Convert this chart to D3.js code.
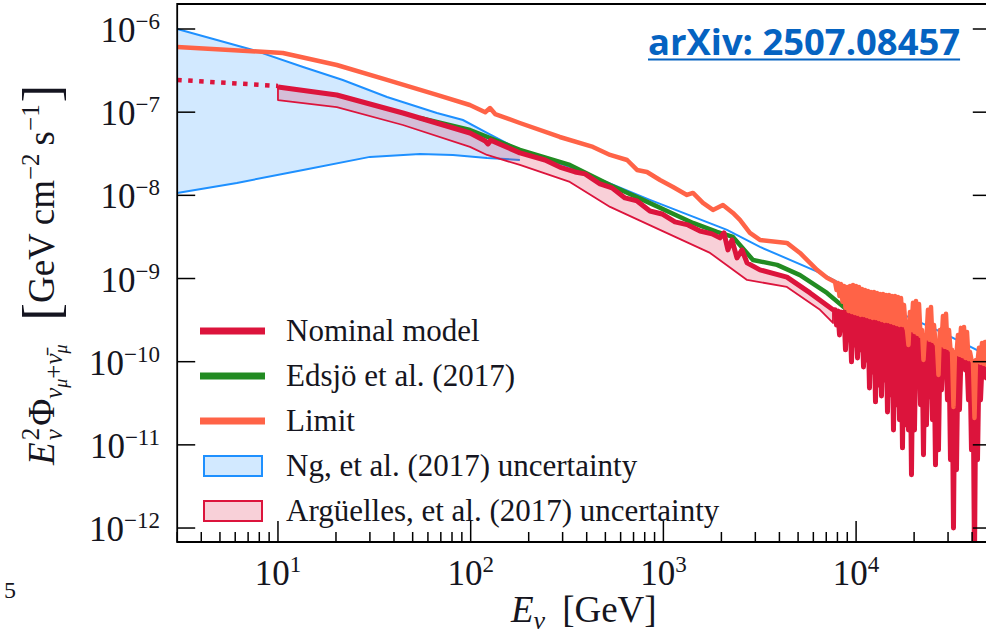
<!DOCTYPE html>
<html><head><meta charset="utf-8">
<script src="https://cdn.jsdelivr.net/npm/d3@7"></script>
<style>body{margin:0;background:#fff;overflow:hidden}</style>
</head><body>
<svg id="c" width="986" height="634"></svg>
<script>
// ---------------- DATA ----------------
const xTickValues = [10, 100, 1000, 10000];
const xTickExponents = ["1", "2", "3", "4"];
const yTickValues = [1e-12, 1e-11, 1e-10, 1e-9, 1e-8, 1e-7, 1e-6];
const yTickExponents = ["\u221212", "\u221211", "\u221210", "\u22129", "\u22128", "\u22127", "\u22126"];

const legendLabels = ["Nominal model", "Edsj\u00f6 et al. (2017)", "Limit",
  "Ng, et al. (2017) uncertainty", "Arg\u00fcelles, et al. (2017) uncertainty"];

// [E (GeV), E^2 Phi (GeV cm^-2 s^-1)]
const ngUpper = [[3,1e-6],[7.42,5.6e-7],[13.5,3.49e-7],[21.7,2.44e-7],[36.8,1.52e-7],[66.8,9.77e-8],
  [91.2,8.05e-8],[121.6,5.62e-8],[180,3.52e-8],[327,2.19e-8],[851,8.81e-9],[2138,3.84e-9],[3169,2.40e-9],
  [6500,1.17e-9],[8551,8.38e-10],[15520,4.20e-10],[28250,2.22e-10],[50000,1.14e-10]];
const ngLower = [[3,1.07e-8],[6.12,1.41e-8],[13.5,2.02e-8],[30,2.9e-8],[54.6,3.15e-8],[80.9,3.06e-8],
  [121.6,2.82e-8],[180,2.66e-8]];

const limitSmooth = [[3,6.08e-7],[10.6,5.15e-7],[20.2,3.69e-7],[36.8,2.44e-7],[66.8,1.61e-7],[99,1.22e-7],
  [119,1.0e-7],[126,1.12e-7],[134,9.5e-8],[180,7.41e-8],[290,5.03e-8],[431,3.82e-8],[529,3.06e-8],
  [648,2.66e-8],[730,2.02e-8],[822,1.91e-8],[960,1.53e-8],[1122,1.26e-8],[1325,1.01e-8],[1424,1.07e-8],
  [1604,8.11e-9],[1808,6.68e-9],[2037,7.67e-9],[2296,6.14e-9],[2495,5.06e-9],[2811,3.53e-9],[3169,2.91e-9],
  [4375,2.68e-9],[5115,2.03e-9],[6266,1.27e-9],[7061,1.02e-9]];

const edsjo = [[54.6,8.51e-8],[99.2,6.11e-8],[180,3.52e-8],[327,2.32e-8],[529,1.33e-8],[783,8.81e-9],
  [1424,4.66e-9],[1897,3.63e-9],[2296,3.16e-9],[2917,1.67e-9],[3890,1.46e-9],[5115,1.10e-9],[7061,6.71e-10],
  [8974,4.20e-10],[11800,3.01e-10],[16895,2.10e-10],[24190,1.47e-10],[31830,1.05e-10],[42400,8.41e-11],
  [50000,7.53e-11]];

const nominalLowE = [[3,2.44e-7],[10,2.07e-7]];
const nominalSmooth = [[10,2.01e-7],[20.2,1.61e-7],[44.5,9.77e-8],[99.2,5.62e-8],[119,4.5e-8],[123,4.15e-8],
  [127,4.6e-8],[180,3.24e-8],[243,2.66e-8],[290,2.19e-8],[348,1.91e-8],[392,1.81e-8],[469,1.37e-8],
  [541,1.23e-8],[632,9.31e-9],[730,8.57e-9],[851,6.49e-9],[984,5.97e-9],[1148,4.79e-9],[1342,4.41e-9],
  [1549,3.73e-9],[1788,3.44e-9],[1966,3.08e-9],[2063,3.53e-9],[2163,2.21e-9],[2269,2.91e-9],[2409,1.77e-9],
  [2558,2.21e-9],[2717,1.54e-9],[3169,1.27e-9],[4375,1.04e-9],[5770,6.71e-10],[7586,4.20e-10]];
const arguellesLower = [[10,1.40e-7],[20.2,1.15e-7],[44.5,7.01e-8],[99.2,3.82e-8],[121.6,3.06e-8],
  [180,2.32e-8],[327,1.45e-8],[529,7.26e-9],[960,3.84e-9],[1746,2.03e-9],[2717,9.62e-10],[4375,7.93e-10],
  [6500,4.20e-10],[7586,2.92e-10]];

// oscillating high-energy part, read peak/dip by peak/dip
const oscE = [7772,7912,8055,8201,8349,8500,8654,8810,8970,9132,9297,9465,9636,9811,9988,10169,10352,10539,
  10730,10924,11121,11322,11527,11735,11947,12164,12383,12607,12835,13067,13303,13544,13789,14038,14292,
  14550,14813,15081,15353,15631,15913,16201,16494,16792,17096,17405,17719,18040,18366,18698,19036,19380,
  19731,20088,20451,20821,21197,21581,21971,22368,22773,23185,23604,24031,24465,24908,25358,25817,26284,
  26759,27243,27736,28237,28748,29268,29797,30336,30884,31443,32011,32590,33180,33780,34391,35013,35646,
  36290,36947,37615,38295,38987,39692,40410,41141,41885,42658,43429,44214,45014,45828,46657,47500,48359,
  49234,50125];
const oscNominal = [4.20e-10,2.77e-10,4.08e-10,2.10e-10,3.97e-10,2.41e-10,3.97e-10,1.39e-10,3.86e-10,1.83e-10,
  3.76e-10,9.95e-11,3.65e-10,1.59e-10,3.65e-10,1.11e-10,3.55e-10,1.39e-10,3.45e-10,8.66e-11,3.45e-10,1.05e-10,
  3.36e-10,4.84e-11,3.27e-10,7.53e-11,3.18e-10,3.29e-11,3.18e-10,5.26e-11,3.09e-10,3.88e-11,3.01e-10,6.04e-11,
  2.92e-10,2.49e-11,2.92e-10,3.99e-11,2.84e-10,1.51e-11,2.77e-10,3.03e-11,2.69e-10,2.00e-11,2.62e-10,9.2e-12,
  2.62e-10,1.74e-11,2.55e-10,1.51e-11,2.34e-10,4.36e-12,2.22e-10,1.51e-11,2.10e-10,5.26e-11,1.99e-10,3.03e-11,
  1.93e-10,7.59e-12,1.88e-10,1.74e-11,1.78e-10,3.78e-11,1.73e-10,2.00e-11,1.68e-10,5.75e-12,1.59e-10,8.71e-12,
  1.55e-10,4.58e-11,1.51e-10,8.66e-11,1.43e-10,3.47e-11,1.39e-10,6.61e-12,1.31e-10,1.0e-12,1.24e-10,5.01e-12,
  1.17e-10,2.64e-11,1.14e-10,9.16e-11,1.11e-10,7.96e-11,1.05e-10,3.47e-11,1.02e-10,8.71e-12,9.95e-11,4.15e-13,
  9.68e-11,6.61e-12,9.42e-11,3.47e-11,9.16e-11,6.56e-11,8.91e-11,6.38e-11,8.66e-11,5.26e-11,8.41e-11];
const oscLimit = [9.10e-10,7.30e-10,8.85e-10,6.18e-10,8.61e-10,5.24e-10,8.15e-10,4.44e-10,7.93e-10,4.08e-10,
  8.15e-10,3.97e-10,8.38e-10,3.86e-10,8.15e-10,3.76e-10,7.93e-10,3.65e-10,7.50e-10,3.65e-10,7.30e-10,3.55e-10,
  7.10e-10,3.45e-10,6.90e-10,3.36e-10,6.90e-10,3.36e-10,6.71e-10,3.27e-10,6.53e-10,3.18e-10,6.53e-10,3.09e-10,
  6.35e-10,3.09e-10,6.35e-10,3.01e-10,6.18e-10,2.92e-10,6.18e-10,2.84e-10,6.01e-10,2.77e-10,5.85e-10,2.77e-10,
  4.82e-10,2.69e-10,2.41e-10,1.59e-10,3.97e-10,2.41e-10,5.10e-10,2.28e-10,5.38e-10,2.16e-10,4.95e-10,2.04e-10,
  2.41e-10,1.05e-10,2.10e-10,1.93e-10,4.20e-10,1.83e-10,4.56e-10,1.78e-10,2.77e-10,1.68e-10,1.59e-10,6.93e-11,
  2.41e-10,1.59e-10,3.55e-10,1.51e-10,3.76e-10,1.47e-10,2.41e-10,1.39e-10,1.39e-10,2.86e-11,1.31e-10,1.24e-10,
  2.10e-10,1.21e-10,2.55e-10,1.17e-10,2.62e-10,1.11e-10,2.28e-10,1.08e-10,1.31e-10,1.05e-10,9.95e-11,2.11e-11,
  1.05e-10,9.95e-11,1.47e-10,9.68e-11,1.68e-10,9.42e-11,1.73e-10,9.16e-11,1.59e-10,8.91e-11,1.39e-10];

const nominal = nominalSmooth.concat(oscE.map((e,i) => [e, oscNominal[i]]));
const limit = limitSmooth.concat(oscE.map((e,i) => [e, oscLimit[i]]));

// ---------------- LAYOUT ----------------
const X0 = 177.2, X1 = 990.8, Y0 = 542, Y1 = 4;
const SERIF = "Liberation Serif, Times New Roman, serif";
const C = {red:"#DC143C", green:"#228B22", orange:"#FF6347", blue:"#1E90FF",
  blueFill:"rgba(30,144,255,0.2)", redFill:"rgba(220,20,60,0.2)", ink:"#151520"};

const svg = d3.select("#c");
const x = d3.scaleLog().domain([3, 5e4]).range([X0, X1]);
const y = d3.scaleLog().domain([Math.pow(10,-12.168), Math.pow(10,-5.6994)]).range([Y0, Y1]);

svg.append("defs").append("clipPath").attr("id","clip")
  .append("rect").attr("x",X0).attr("y",Y1).attr("width",X1-X0).attr("height",Y0-Y1);
const plot = svg.append("g").attr("clip-path","url(#clip)");
const line = d3.line().x(d => x(d[0])).y(d => y(d[1]));

// Ng band
const ngPoly = ngUpper.filter(d => d[0] <= 180).concat(ngLower.slice().reverse());
plot.append("path").attr("d", line(ngPoly) + "Z").attr("fill", C.blueFill).attr("stroke","none");
plot.append("path").attr("d", line(ngLower)).attr("fill","none").attr("stroke",C.blue).attr("stroke-width",2);
plot.append("path").attr("d", line(ngUpper)).attr("fill","none").attr("stroke",C.blue).attr("stroke-width",2);

// Edsjo
plot.append("path").attr("d", line(edsjo)).attr("fill","none").attr("stroke",C.green)
  .attr("stroke-width",4.5).attr("stroke-linejoin","round");
// Arguelles band
const argPoly = nominalSmooth.concat(arguellesLower.slice().reverse());
plot.append("path").attr("d", line(argPoly) + "Z").attr("fill", C.redFill)
  .attr("stroke", C.red).attr("stroke-width",1.8).attr("stroke-linejoin","round");
// Nominal
plot.append("path").attr("d", line(nominalLowE)).attr("fill","none").attr("stroke",C.red)
  .attr("stroke-width",4.5).attr("stroke-dasharray","4.5,6.5");
plot.append("path").attr("d", line(nominal)).attr("fill","none").attr("stroke",C.red)
  .attr("stroke-width",5).attr("stroke-linejoin","round");
// Limit
plot.append("path").attr("d", line(limit)).attr("fill","none").attr("stroke",C.orange)
  .attr("stroke-width",4.5).attr("stroke-linejoin","round");

// ---------------- AXES ----------------
const ax = svg.append("g").attr("stroke", "#000").attr("stroke-width", 1.8).attr("fill","none");
ax.append("path").attr("d", `M${X1},${Y1}H${X0}V${Y0}H${X1}V${Y1}`);

const xMinor = [];
for (let d = 0; d <= 4; d++) for (let k = 2; k <= 9; k++) {
  const v = k * Math.pow(10, d);
  if (v >= 3 && v <= 5e4 && xTickValues.indexOf(v) < 0) xMinor.push(v);
}
xMinor.forEach(v => ax.append("line").attr("x1",x(v)).attr("x2",x(v)).attr("y1",Y0).attr("y2",Y0-10).attr("stroke-width",1.5));
xTickValues.forEach(v => ax.append("line").attr("x1",x(v)).attr("x2",x(v)).attr("y1",Y0).attr("y2",Y0-21).attr("stroke-width",1.5));
yTickValues.forEach(v => {
  ax.append("line").attr("x1",X0).attr("x2",X0+18).attr("y1",y(v)).attr("y2",y(v)).attr("stroke-width",1.5);
  ax.append("line").attr("x1",X1).attr("x2",X1-18).attr("y1",y(v)).attr("y2",y(v)).attr("stroke-width",1.5);
});

const txt = svg.append("g").attr("fill", C.ink).attr("font-family", SERIF);
yTickValues.forEach((v,i) => {
  const t = txt.append("text").attr("x",160).attr("y",y(v)+13).attr("text-anchor","end");
  t.append("tspan").attr("font-size",35).text("10");
  t.append("tspan").attr("font-size",23).attr("dy",-13).text(yTickExponents[i]);
});
xTickValues.forEach((v,i) => {
  const t = txt.append("text").attr("x",x(v)).attr("y",585).attr("text-anchor","middle");
  t.append("tspan").attr("font-size",35).text("10");
  t.append("tspan").attr("font-size",23).attr("dy",-13).text(xTickExponents[i]);
});

function rich(g, parts) {
  let cx = 0, pend = 0;
  parts.forEach(p => {
    cx += (p.gap || 0);
    const t = g.append("text").attr("x", cx).attr("y", p.dy || 0)
      .attr("font-size", p.size).attr("font-style", p.it ? "italic" : "normal").text(p.t);
    const w = t.node().getComputedTextLength();
    if (p.keep) pend = Math.max(pend, w); else { cx += Math.max(w, pend); pend = 0; }
  });
  return cx;
}
// x label
const xl = txt.append("g");
rich(xl, [{t:"E",size:37,it:true},{t:"\u03bd",size:26,it:true,dy:7},{t:"[GeV]",size:37,gap:17}]);
xl.attr("transform", "translate(511,622)");
// y label
const yl = txt.append("g");
const yw = rich(yl, [
  {t:"E",size:37,it:true},{t:"2",size:25,dy:-15,keep:true,gap:2},{t:"\u03bd",size:25,it:true,dy:8},
  {t:"\u03a6",size:37,gap:2},{t:"\u03bd",size:25,it:true,dy:8},{t:"\u03bc",size:18,it:true,dy:13},
  {t:"+",size:25,dy:8},{t:"\u03bd\u0304",size:25,it:true,dy:8},{t:"\u03bc",size:18,it:true,dy:13},
  {t:"[",size:52,dy:5,gap:24},{t:"GeV",size:37},{t:"cm",size:37,gap:8},{t:"\u22122",size:25,dy:-15},
  {t:"s",size:37,gap:8},{t:"\u22121",size:25,dy:-15},{t:"]",size:52,dy:5,gap:2}]);
yl.attr("transform", `translate(54,275) rotate(-90) translate(${-yw/2},0)`);

// legend
const legY = [331, 376, 421, 466, 511];
const leg = svg.append("g");
[C.red, C.green, C.orange].forEach((c,i) => leg.append("line").attr("x1",200).attr("x2",265)
  .attr("y1",legY[i]).attr("y2",legY[i]).attr("stroke",c).attr("stroke-width",7));
[[C.blueFill,C.blue],[C.redFill,C.red]].forEach((c,i) => leg.append("rect").attr("x",204).attr("y",legY[i+3]-10)
  .attr("width",58).attr("height",20).attr("fill",c[0]).attr("stroke",c[1]).attr("stroke-width",2));
legendLabels.forEach((s,i) => leg.append("text").attr("x",286).attr("y",legY[i]+10).attr("fill",C.ink)
  .attr("font-family",SERIF).attr("font-size",31).text(s));

// arXiv tag
const ar = svg.append("text").attr("x",648).attr("y",55).attr("fill","#0563C1")
  .attr("font-family","Open Sans, sans-serif").attr("font-weight","bold").attr("font-size",36.4)
  .text("arXiv: 2507.08457");
const aw = ar.node().getComputedTextLength();
svg.append("line").attr("x1",648).attr("x2",648+aw).attr("y1",59.5).attr("y2",59.5)
  .attr("stroke","#0563C1").attr("stroke-width",2.2);

// stray page number
svg.append("text").attr("x",4).attr("y",598).attr("fill",C.ink).attr("font-family",SERIF)
  .attr("font-size",24).text("5");
</script>
</body></html>
